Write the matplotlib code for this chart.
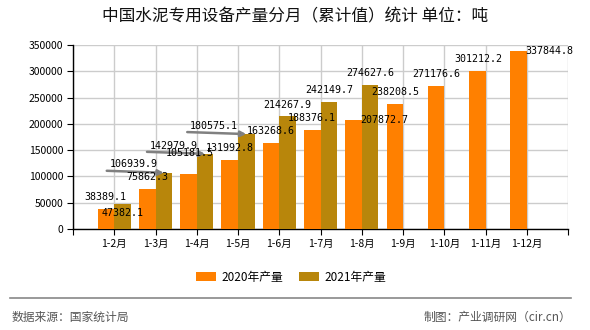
import matplotlib
matplotlib.use("Agg")
import matplotlib.pyplot as plt
from matplotlib.patches import Patch
from matplotlib.lines import Line2D

plt.rcParams['font.family'] = ['Noto Sans CJK SC', 'DejaVu Sans']

# ---- data ----
categories = ["1-2月", "1-3月", "1-4月", "1-5月", "1-6月", "1-7月", "1-8月",
              "1-9月", "1-10月", "1-11月", "1-12月"]
values_2020 = [38389.1, 75862.3, 105181.5, 131992.8, 163268.6, 188376.1,
               207872.7, 238208.5, 271176.6, 301212.2, 337844.8]
values_2021 = [47382.1, 106939.9, 142979.9, 180575.1, 214267.9, 242149.7,
               274627.6]
series_names = ["2020年产量", "2021年产量"]
title = "中国水泥专用设备产量分月（累计值）统计 单位：吨"
source_left = "数据来源：国家统计局"
source_right = "制图：产业调研网（cir.cn）"

# ---- styles / label placement (pixels) ----
c20 = "#FF8000"
c21 = "#B8860B"
off20 = [(-1, 12), (0, 12), (1, 21), (0, 12), (0, 12), (0, 12), (31, 0),
         (0, 12), (0, 12), (1, 12), (31, 0)]
off21 = [(0, -9), (-30, 9), (-31, 8), (-32, 8), (0, 11), (0, 12), (0, 12)]
leader21 = [False, True, True, True, False, False, False]

fig = plt.figure(figsize=(5.9, 3.3), dpi=100)
ax = fig.add_axes([73/590, 1-229/330, (568-73)/590, (229-45)/330])

n = len(categories)
pos = list(range(1, n + 1))
w = 0.4
x20 = [p - w/2 for p in pos]
x21 = [p + w/2 for p in pos[:len(values_2021)]]
ax.bar(x20, values_2020, width=w, color=c20, zorder=3)
ax.bar(x21, values_2021, width=w, color=c21, zorder=3)

ax.set_xlim(0, n + 1)
ax.set_ylim(0, 350000)
ax.set_yticks(range(0, 350001, 50000))
ax.set_xticks(list(range(0, n + 2)))
ax.set_xticklabels([""] + categories + [""])
ax.grid(True, color="#cccccc", linewidth=1, zorder=0)
for s in ["top", "right"]:
    ax.spines[s].set_visible(False)
for s in ["left", "bottom"]:
    ax.spines[s].set_color("black")
    ax.spines[s].set_linewidth(1)
ax.tick_params(axis="y", length=4, pad=3, labelsize=7.5, direction="out")
ax.tick_params(axis="x", length=4, pad=3, labelsize=7.5, direction="out")

lab_font = dict(family="DejaVu Sans Mono", size=7.2, color="black")
for x, v, (dx, dy) in zip(x20, values_2020, off20):
    ax.annotate(f"{v:.1f}", xy=(x, v), xytext=(dx, dy),
                textcoords="offset pixels", ha="center", va="center",
                zorder=5, **lab_font)
for x, v, (dx, dy), ld in zip(x21, values_2021, off21, leader21):
    if ld:
        ax.annotate("", xy=(x, v), xytext=(dx - 27, 2),
                    textcoords="offset pixels", zorder=4,
                    arrowprops=dict(arrowstyle="-|>", ec="#808080", fc="black",
                                    lw=1.8, mutation_scale=8,
                                    shrinkA=0, shrinkB=0))
    ax.annotate(f"{v:.1f}", xy=(x, v), xytext=(dx, dy),
                textcoords="offset pixels", ha="center", va="center",
                zorder=5, **lab_font)

fig.text(0.5, 1-17/330, title, ha="center", va="center", fontsize=12,
         color="#111111")

handles = [Patch(facecolor=c20, edgecolor="none"),
           Patch(facecolor=c21, edgecolor="none")]
fig.legend(handles, series_names, loc="center", bbox_to_anchor=(291/590, 1-277/330),
           ncol=2, frameon=False, fontsize=8.5, handlelength=1.7,
           handleheight=0.7, handletextpad=0.5, columnspacing=1.3)

fig.add_artist(Line2D([10/590, 571/590], [1-298/330, 1-298/330],
                      color="#888888", lw=1.2))
fig.text(12/590, 1-317/330, source_left, ha="left", va="center",
         fontsize=8.5, color="#555555")
fig.text(571/590, 1-317/330, source_right, ha="right", va="center",
         fontsize=8.5, color="#555555")

fig.savefig("out.png", dpi=100)
